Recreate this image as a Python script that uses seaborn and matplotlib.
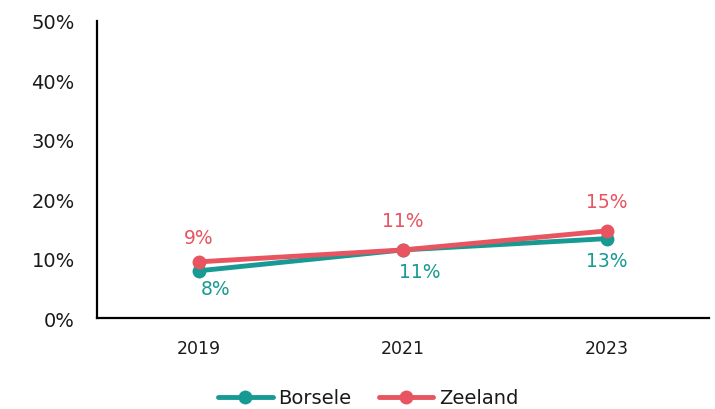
import pandas as pd
import seaborn as sns
import matplotlib.pyplot as plt

years = ['2019', '2021', '2023']
borsele = [8.0, 11.5, 13.4]
zeeland = [9.5, 11.5, 14.7]
borsele_labels = ['8%', '11%', '13%']
zeeland_labels = ['9%', '11%', '15%']

teal = '#179A93'
red = '#E8545F'

df = pd.DataFrame({
    'year': years * 2,
    'value': borsele + zeeland,
    'region': ['Borsele'] * 3 + ['Zeeland'] * 3,
})

sns.set_style('white')
plt.rcParams['font.family'] = ['DejaVu Sans']
plt.rcParams['text.color'] = '#1a1a1a'
plt.rcParams['xtick.color'] = '#1a1a1a'
plt.rcParams['ytick.color'] = '#1a1a1a'

fig = plt.figure(figsize=(7.15, 4.10), dpi=100)
ax = fig.add_axes([0.1357, 0.221, 0.856, 0.726])

sns.lineplot(data=df, x='year', y='value', hue='region', hue_order=['Borsele', 'Zeeland'],
             palette={'Borsele': teal, 'Zeeland': red}, marker='o', markersize=10,
             markeredgewidth=0, linewidth=3.5, ax=ax, legend=False)

# label offsets (points), roughly where Excel put them
b_off = [(12, -6), (12, -9), (0, -9)]
z_off = [(0, 11), (0, 14), (0, 14)]
for i, (v, lab) in enumerate(zip(borsele, borsele_labels)):
    ax.annotate(lab, (i, v), xytext=b_off[i], textcoords='offset points',
                ha='center', va='top', color=teal, fontsize=13.5)
for i, (v, lab) in enumerate(zip(zeeland, zeeland_labels)):
    ax.annotate(lab, (i, v), xytext=z_off[i], textcoords='offset points',
                ha='center', va='bottom', color=red, fontsize=13.5)

ax.set_xlim(-0.5, 2.5)
ax.set_ylim(0, 50)
ax.set_yticks([0, 10, 20, 30, 40, 50])
ax.set_yticklabels([f'{t}%' for t in range(0, 60, 10)], fontsize=14)
ax.tick_params(axis='x', labelsize=12.5, length=0, pad=15)
ax.tick_params(axis='y', length=0, pad=16)
ax.set_xlabel('')
ax.set_ylabel('')

sns.despine(ax=ax)
for s in ['left', 'bottom']:
    ax.spines[s].set_color('black')
    ax.spines[s].set_linewidth(1.6)

handles = [plt.Line2D([], [], color=teal, marker='o', markersize=10, linewidth=3.5, markeredgewidth=0),
           plt.Line2D([], [], color=red, marker='o', markersize=10, linewidth=3.5, markeredgewidth=0)]
fig.legend(handles, ['Borsele', 'Zeeland'], loc='center', bbox_to_anchor=(0.515, 0.027),
           ncol=2, frameon=False, fontsize=14, handlelength=2.8, columnspacing=1.4, handletextpad=0.3)

fig.savefig('out.png', dpi=100)
